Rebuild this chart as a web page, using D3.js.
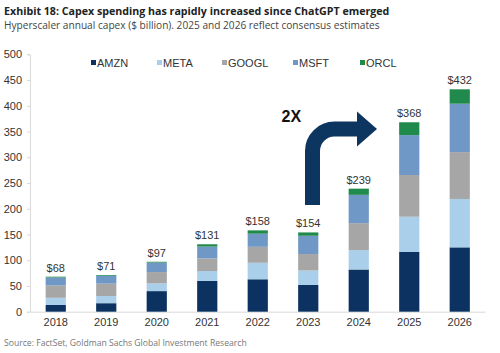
<!DOCTYPE html>
<html><head><meta charset="UTF-8">
<script src="https://cdn.jsdelivr.net/npm/d3@7"></script>
<style>
  body { margin: 0; background: #fff; }
  text { font-family: "Liberation Sans", Arial, sans-serif; }
</style>
</head>
<body>
<svg id="chart" width="500" height="353"></svg>
<script>
// data, $ billion
const years = ["2018","2019","2020","2021","2022","2023","2024","2025","2026"];
const companies = ["AMZN","META","GOOGL","MSFT","ORCL"];
const amzn  = [13, 16.5, 40, 60, 63, 52, 82, 116, 125];
const meta  = [14, 14, 15, 19, 32, 28, 37.5, 68.5, 94];
const googl = [24, 24, 22, 24.5, 31, 32, 52.5, 81, 91];
const msft  = [15.5, 15, 18.5, 23, 25.5, 35.5, 55, 77.5, 94];
const orcl  = [1.5, 1.5, 1.5, 4.5, 6.5, 6.5, 12, 25, 28];
const totals = [68, 71, 97, 131, 158, 154, 239, 368, 432];
const yTicks = [0, 50, 100, 150, 200, 250, 300, 350, 400, 450, 500];

const colors = ["#0b3260", "#a9cfeb", "#a6a6a6", "#7098c6", "#1f8a4c"];

let svg = d3.select("#chart");

let rows = years.map((y, i) => ({
  year: y, AMZN: amzn[i], META: meta[i], GOOGL: googl[i], MSFT: msft[i], ORCL: orcl[i], total: totals[i]
}));

let x = d3.scaleBand().domain(years).range([30.5, 485]).paddingInner(0.6).paddingOuter(0.3);
let y = d3.scaleLinear().domain([0, 500]).range([311.7, 54.3]);
let color = d3.scaleOrdinal().domain(companies).range(colors);

// titles
function fit(sel, w) {
  let s = parseFloat(sel.style("font-size"));
  let len = sel.node().getComputedTextLength();
  sel.style("font-size", (s * w / len) + "px");
}
let t1 = svg.append("text").attr("x", 4).attr("y", 15)
  .style("font-family", "'Open Sans', sans-serif").style("font-weight", "bold")
  .style("font-size", "13px").attr("fill", "#222")
  .text("Exhibit 18: Capex spending has rapidly increased since ChatGPT emerged");
fit(t1, 386);
let t2 = svg.append("text").attr("x", 4).attr("y", 29)
  .style("font-family", "'Open Sans', sans-serif")
  .style("font-size", "12px").attr("fill", "#444")
  .text("Hyperscaler annual capex ($ billion). 2025 and 2026 reflect consensus estimates");
fit(t2, 376);

// y axis
let yAxis = svg.append("g").attr("transform", "translate(30,0)")
  .call(d3.axisLeft(y).tickValues(yTicks).tickSize(3).tickPadding(5));
yAxis.select(".domain").attr("stroke", "#d9d9d9");
yAxis.selectAll(".tick line").attr("stroke", "#d9d9d9");
yAxis.selectAll("text").style("font-size", "11px").attr("fill", "#333");

// x axis
let xAxis = svg.append("g").attr("transform", "translate(0,311.7)")
  .call(d3.axisBottom(x).tickSize(0).tickPadding(7));
xAxis.select(".domain").attr("stroke", "#d9d9d9");
xAxis.selectAll("text").style("font-size", "11px").attr("fill", "#333");

// stacked bars
let stacked = d3.stack().keys(companies)(rows);
svg.append("g").selectAll("g").data(stacked).join("g")
  .attr("fill", d => color(d.key))
  .selectAll("rect").data(d => d).join("rect")
  .attr("x", d => x(d.data.year))
  .attr("width", x.bandwidth())
  .attr("y", d => y(d[1]))
  .attr("height", d => y(d[0]) - y(d[1]));

// total labels
svg.append("g").selectAll("text").data(rows).join("text")
  .attr("x", d => x(d.year) + x.bandwidth() / 2)
  .attr("y", d => y(d.total) - 5)
  .attr("text-anchor", "middle")
  .style("font-size", "11px").attr("fill", "#333")
  .text(d => "$" + d.total);

// legend
let legX = [91, 157, 222, 293, 360];
let leg = svg.append("g").selectAll("g").data(companies).join("g")
  .attr("transform", (d, i) => "translate(" + legX[i] + ",62.5)");
leg.append("rect").attr("x", 0).attr("y", -2.5).attr("width", 5).attr("height", 5)
  .attr("fill", d => color(d));
leg.append("text").attr("x", 6).attr("y", 4).style("font-size", "11px").attr("fill", "#333")
  .text(d => d);

// 2X arrow
let arrowColor = "#0c3560";
let sx = 312.5, sy = 205, hy = 129, r = 22, hx = 358;
svg.append("path")
  .attr("d", "M" + sx + "," + sy + " L" + sx + "," + (hy + r) +
    " A" + r + "," + r + " 0 0 1 " + (sx + r) + "," + hy + " L" + hx + "," + hy)
  .attr("fill", "none").attr("stroke", arrowColor).attr("stroke-width", 15);
svg.append("path")
  .attr("d", "M" + (hx - 1) + "," + (hy - 17.5) + " L377," + hy + " L" + (hx - 1) + "," + (hy + 17.5) + " Z")
  .attr("fill", arrowColor);
svg.append("text").attr("x", 281.5).attr("y", 121.5)
  .style("font-size", "16px").style("font-weight", "bold").attr("fill", "#111")
  .text("2X");

// source
let src = svg.append("text").attr("x", 4).attr("y", 346)
  .style("font-family", "'Open Sans', sans-serif")
  .style("font-size", "10px").attr("fill", "#777")
  .text("Source: FactSet, Goldman Sachs Global Investment Research");
fit(src, 243);
</script>
</body></html>
